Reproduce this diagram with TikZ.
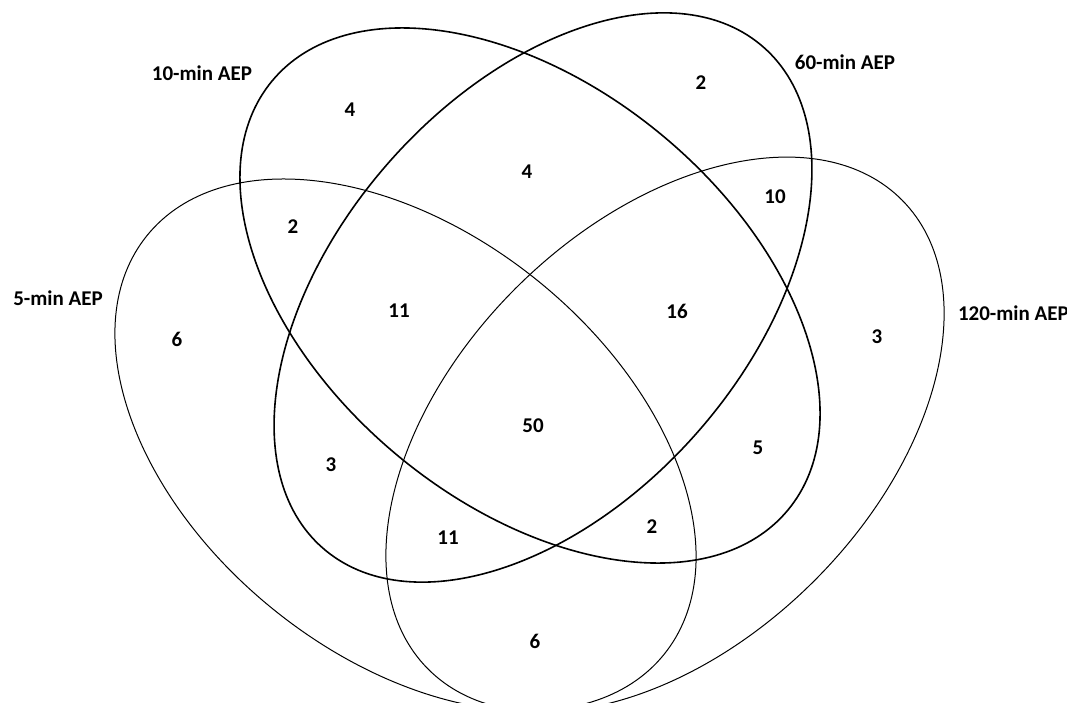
\documentclass[tikz,border=0pt]{standalone}
\usepackage{fontspec}
\setmainfont{Carlito}
\begin{document}
\begin{tikzpicture}[x=1pt,y=-1pt,
  inner set/.style={line width=1.6pt, black},
  outer set/.style={line width=1.0pt, black},
  setlabel/.style={font=\fontsize{21}{25}\selectfont\bfseries, inner sep=0pt},
  count/.style={font=\fontsize{21}{25}\selectfont\bfseries, inner sep=0pt}]
\useasboundingbox (0,0) rectangle (1067,703);
% outer sets
\draw[outer set] (405.5,445) circle [x radius=332.7, y radius=210.9, rotate=-39.05];
\draw[outer set] (665,434.5) circle [x radius=333.4, y radius=209, rotate=44.6];
% inner sets
\draw[inner set] (530,295.5) circle [x radius=335.5, y radius=207.7, rotate=-39.8];
\draw[inner set] (543,297.5) circle [x radius=333.6, y radius=205, rotate=48.6];
% set labels
\node[setlabel] (l10) at (202,73) {10-min AEP};
\node[setlabel] (l60) at (845,62) {60-min AEP};
\node[setlabel] (l5) at (58,298) {5-min AEP};
\node[setlabel, anchor=east] (l120) at (1069,313) {120-min AEP};
% counts
\node[count] (c10) at (350,110) {4};
\node[count] (c60) at (701,83) {2};
\node[count] (c1060) at (527,172) {4};
\node[count] (c510) at (293,227) {2};
\node[count] (c60120) at (775,197) {10};
\node[count] (c51060) at (399,311) {11};
\node[count] (c1060120) at (677,311) {16};
\node[count] (c5) at (177,339) {6};
\node[count] (c120) at (877,337) {3};
\node[count] (call) at (533,426) {50};
\node[count] (c10120) at (758,448) {5};
\node[count] (c560) at (331,465) {3};
\node[count] (c560120) at (448,538) {11};
\node[count] (c510120) at (652,527) {2};
\node[count] (c5120) at (535,641) {6};
\end{tikzpicture}
\end{document}
